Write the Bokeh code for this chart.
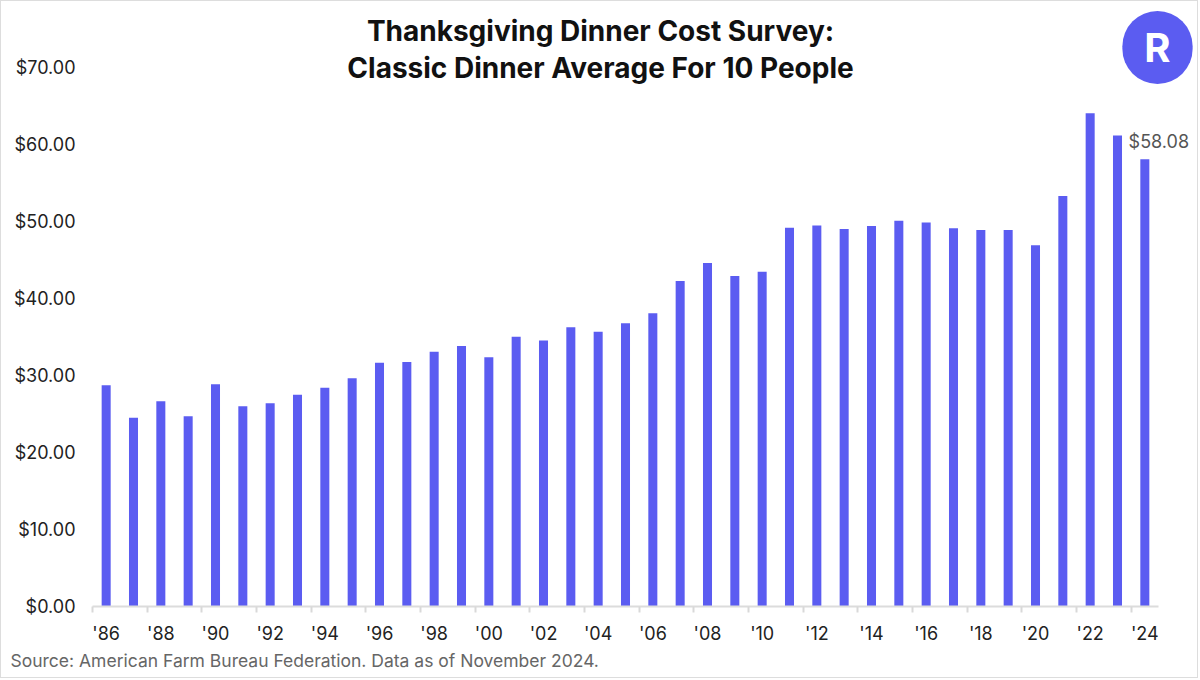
from bokeh.plotting import figure
from bokeh.models import Range1d, FixedTicker, NumeralTickFormatter, Label, Title
from bokeh.embed import file_html
from bokeh.resources import INLINE

years = list(range(1986, 2025))
costs = [28.74, 24.51, 26.65, 24.70, 28.85, 26.02, 26.39, 27.49, 28.40, 29.64,
         31.66, 31.75, 33.09, 33.83, 32.37, 35.04, 34.56, 36.28, 35.68, 36.78,
         38.10, 42.26, 44.61, 42.91, 43.47, 49.20, 49.48, 49.04, 49.41, 50.11,
         49.87, 49.12, 48.90, 48.91, 46.90, 53.31, 64.05, 61.17, 58.08]
tick_years = years[::2]
tick_labels = ["'86", "'88", "'90", "'92", "'94", "'96", "'98", "'00", "'02", "'04",
               "'06", "'08", "'10", "'12", "'14", "'16", "'18", "'20", "'22", "'24"]
y_ticks = [0, 10, 20, 30, 40, 50, 60, 70]

title1 = "Thanksgiving Dinner Cost Survey:"
title2 = "Classic Dinner Average For 10 People"
source = "Source: American Farm Bureau Federation. Data as of November 2024."

BAR = "#5B5CF1"
FONT = "Inter"

W, H = 1198, 678
FRAME_BOTTOM = 73
FRAME_H = H - FRAME_BOTTOM          # frame reaches canvas top
PX_PER_UNIT = 539 / 70              # 70 sits 66px below the top
PX_PER_YEAR = 1066 / len(years)
LEFT = 91
x_end = years[-1] + 0.5 + (W - LEFT - 1066) / PX_PER_YEAR

p = figure(width=W, height=H, output_backend="svg", toolbar_location=None,
           x_range=Range1d(years[0] - 0.5, x_end),
           y_range=Range1d(0, FRAME_H / PX_PER_UNIT),
           min_border_left=LEFT, min_border_right=0, min_border_top=0,
           min_border_bottom=FRAME_BOTTOM)
p.styles = {"border": "1px solid #dddddd"}
p.outline_line_color = None
p.xgrid.visible = False
p.ygrid.visible = False
p.background_fill_color = "white"
p.border_fill_color = "white"

p.vbar(x=years, top=costs, width=0.33, color=BAR, line_color=None)

# x axis
xa = p.xaxis[0]
xa.bounds = (years[0] - 0.5, years[-1] + 0.5)
xa.ticker = FixedTicker(ticks=tick_years, minor_ticks=[y - 0.5 for y in tick_years])
xa.major_label_overrides = {float(y): l for y, l in zip(tick_years, tick_labels)}
xa.major_tick_line_color = None
xa.major_tick_out = 0
xa.major_tick_in = 0
xa.minor_tick_line_color = "#d9d9d9"
xa.minor_tick_line_width = 2
xa.minor_tick_out = 6
xa.minor_tick_in = 0
xa.axis_line_color = "#dcdcdc"
xa.axis_line_width = 2
xa.major_label_text_font = FONT
xa.major_label_text_font_size = "18px"
xa.major_label_text_color = "#222222"
xa.major_label_standoff = 10

ya = p.yaxis[0]
ya.ticker = FixedTicker(ticks=y_ticks)
ya.formatter = NumeralTickFormatter(format="$0.00")
ya.axis_line_color = None
ya.major_tick_line_color = None
ya.minor_tick_line_color = None
ya.major_tick_out = 0
ya.major_label_text_font = FONT
ya.major_label_text_font_size = "18px"
ya.major_label_text_color = "#222222"
ya.major_label_standoff = 17

# last value label
p.add_layout(Label(x=years[-1], y=costs[-1], text="$%.2f" % costs[-1],
                   x_offset=14, y_offset=7, text_align="center", text_baseline="bottom",
                   text_font=FONT, text_font_size="18px", text_color="#555555"))

# titles (screen units relative to frame)
for txt, yy in [(title1, 576), (title2, 539)]:
    p.add_layout(Label(x=508, y=yy, x_units="screen", y_units="screen", text=txt,
                       text_align="center", text_baseline="middle",
                       text_font=FONT, text_font_size="28px", text_font_style="bold",
                       text_color="#111111"))

# source note below the axis
p.add_layout(Title(text=source, align="left", offset=-82, standoff=2,
                   text_font=FONT, text_font_size="17.5px", text_font_style="normal",
                   text_color="#666666"), "below")

# logo
p.add_layout(Label(x=1065, y=559, x_units="screen", y_units="screen", text="R",
                   text_align="center", text_baseline="middle",
                   text_font=FONT, text_font_size="40px", text_font_style="bold",
                   text_color="white", background_fill_color=BAR,
                   padding=dict(left=22, right=22, top=12, bottom=12),
                   border_radius=36))

open("out.html", "w").write(file_html(p, INLINE))
